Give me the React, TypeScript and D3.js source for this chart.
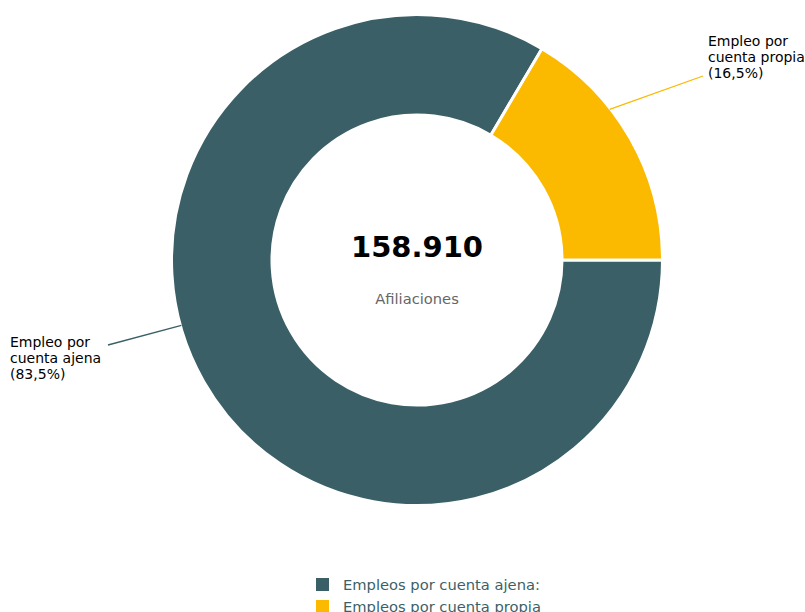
import React from "react";
import * as d3 from "d3";

const categories = ["Empleo por cuenta ajena", "Empleo por cuenta propia"];
const legendLabels = ["Empleos por cuenta ajena:", "Empleos por cuenta propia"];
const shares = [83.5, 16.5];
const colors = ["#3a5f67", "#fbb900"];
const totalLabel = "158.910";
const subLabel = "Afiliaciones";

export default function App() {
  const W = 805, H = 612;
  const cx = 417, cy = 260, R = 245.5, r = 145;
  const pie = d3.pie<number>().sort(null).startAngle(Math.PI / 2).endAngle(Math.PI / 2 + 2 * Math.PI);
  const arcs = pie(shares);
  const arc = d3.arc<d3.PieArcDatum<number>>().innerRadius(r).outerRadius(R);
  // label layout: connector anchor angle (deg), label end point, text position
  const labelLayout = [
    { ang: 254.5, end: [108, 345], tx: 10, ty: 347, anchor: "start" },
    { ang: 52, end: [703, 76], tx: 708, ty: 46, anchor: "start" },
  ];
  const fmt = (v: number) => v.toFixed(1).replace(".", ",") + "%";
  return (
    <svg width={W} height={H} style={{ position: "absolute", left: 0, top: 0, fontFamily: "DejaVu Sans, sans-serif" }}>
      <rect width={W} height={H} fill="#fff" />
      <g transform={`translate(${cx},${cy})`}>
        {arcs.map((a, i) => (
          <path key={i} d={arc(a) || ""} fill={colors[i]} stroke="#fff" strokeWidth={3} strokeLinejoin="round" />
        ))}
      </g>
      {arcs.map((a, i) => {
        const L = labelLayout[i];
        const t = (L.ang * Math.PI) / 180;
        const sx = cx + (R - 1) * Math.sin(t);
        const sy = cy - (R - 1) * Math.cos(t);
        const words = categories[i].split(" ");
        const lines = [words.slice(0, 2).join(" "), words.slice(2).join(" "), `(${fmt(shares[i])})`];
        return (
          <g key={i}>
            <line x1={sx} y1={sy} x2={L.end[0]} y2={L.end[1]} stroke={colors[i]} strokeWidth={1.3} />
            <text x={L.tx} y={L.ty} fontSize={14} fill="#000" textAnchor={L.anchor as any}>
              {lines.map((ln, j) => (
                <tspan key={j} x={L.tx} dy={j === 0 ? 0 : 16}>{ln}</tspan>
              ))}
            </text>
          </g>
        );
      })}
      <text x={cx} y={257} textAnchor="middle" fontSize={29} fontWeight="bold" fill="#000">{totalLabel}</text>
      <text x={cx} y={304} textAnchor="middle" fontSize={14.7} fill="#666">{subLabel}</text>
      {legendLabels.map((l, i) => (
        <g key={i} transform={`translate(316,${578 + i * 22})`}>
          <rect x={0} y={0} width={13} height={13} fill={colors[i]} />
          <text x={27} y={11.5} fontSize={14.7} fill="#3d5f66">{l}</text>
        </g>
      ))}
    </svg>
  );
}
